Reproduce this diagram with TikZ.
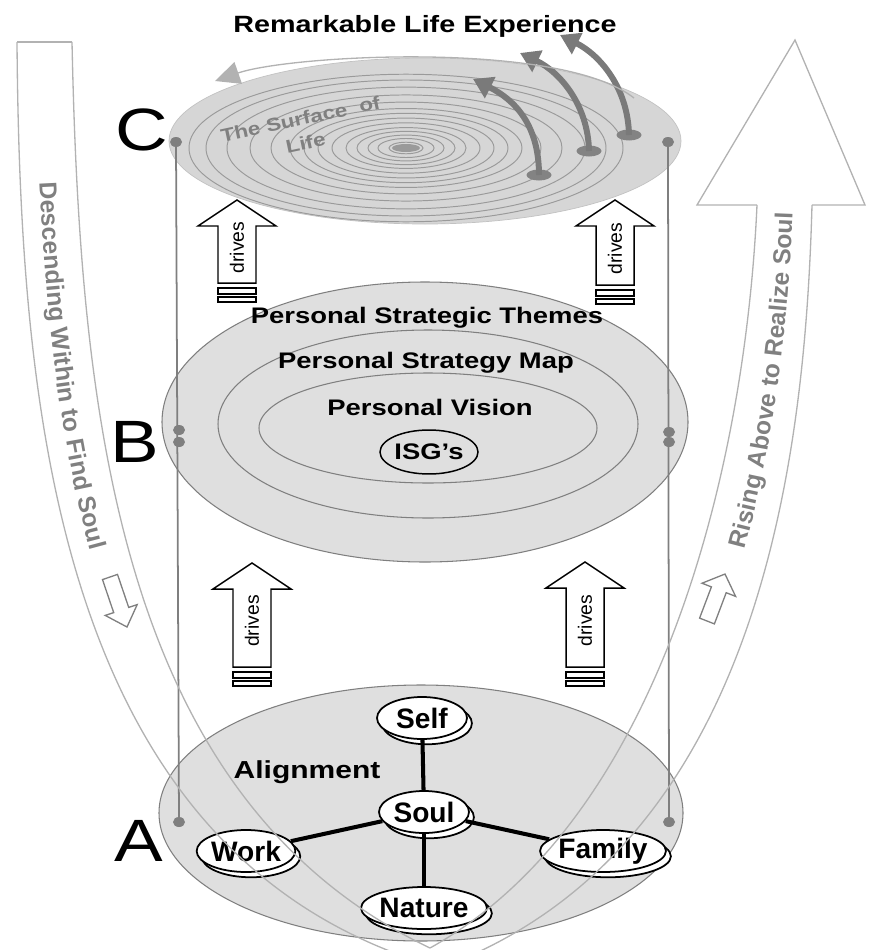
\documentclass[tikz,border=0pt]{standalone}
\usepackage{fontspec}
\setmainfont{Liberation Sans}
\newfontfamily\widefont{Liberation Sans}[FakeStretch=1.22]
\usetikzlibrary{shapes.geometric,shadows,arrows.meta,decorations.text}

\definecolor{discgray}{HTML}{DFDFDF}
\definecolor{topgray}{HTML}{D6D6D6}
\definecolor{rimgray}{HTML}{7F7F7F}
\definecolor{ringgray}{HTML}{9A9A9A}
\definecolor{bandgray}{HTML}{B2B2B2}
\definecolor{textgray}{HTML}{808080}
\definecolor{liftgray}{HTML}{7A7A7A}

\tikzset{
  disc/.style={fill=discgray, draw=rimgray, line width=0.6pt},
  ring/.style={draw=ringgray, line width=0.55pt},
  post/.style={draw=rimgray, line width=1pt},
  knob/.style={ellipse, fill=rimgray, minimum width=0.24cm, minimum height=0.2cm, inner sep=0pt},
  band/.style={draw=bandgray, line width=0.75pt},
  level/.style={font=\widefont\fontsize{34}{34}\selectfont, inner sep=0pt},
  layer/.style={font=\widefont\fontsize{12.8}{14}\selectfont\bfseries, inner sep=0pt, anchor=base},
  pillar/.style={ellipse, draw, line width=1pt, fill=white, minimum width=1.8cm, minimum height=0.84cm, inner sep=0pt,
    font=\fontsize{16}{16}\selectfont\bfseries,
    general shadow={draw=black, fill=white, line width=1pt, shadow xshift=2.8pt, shadow yshift=-3pt}},
  spoke/.style={line width=2.3pt},
  drivebox/.style={draw, line width=0.85pt, fill=white},
  drivetxt/.style={font=\fontsize{11}{11}\selectfont, rotate=90, inner sep=0pt},
  lift/.style={draw=liftgray, line width=3.4pt, -{Triangle[length=11pt, width=13pt]}},
  foot/.style={ellipse, fill=ringgray!85!black, minimum width=0.5cm, minimum height=0.22cm, inner sep=0pt},
}

\newcommand{\drivesarrow}[4]{%
  \draw[drivebox] (#2,#3) -- ({#2+39},{#3+26}) -- ({#2+19},{#3+26}) -- ({#2+19},#4) -- ({#2-19},#4) -- ({#2-19},{#3+26}) -- ({#2-39},{#3+26}) -- cycle;
  \node[drivetxt] (#1) at (#2,{(#3+#4)/2+6}) {drives};
  \draw[drivebox] ({#2-19},{#4+5}) rectangle ({#2+19},{#4+11});
  \draw[drivebox] ({#2-19},{#4+14}) rectangle ({#2+19},{#4+19});
}

\begin{document}
\begin{tikzpicture}[x=0.02cm, y=-0.02cm]
\useasboundingbox (0,0) rectangle (872,950);

% C: the surface of life
\draw[fill=topgray, draw=ringgray!60] (425,141) ellipse [x radius=256, y radius=83];
\foreach \r [evaluate=\r as \ry using 0.34*\r] in {17,28,38,49,60,74,88,102,116,135,156,179,200,217}
  \draw[ring] (406,148) ellipse [x radius=\r, y radius=\ry];
\fill[ringgray] (406,148) ellipse [x radius=14, y radius=4];
\node[font=\widefont\fontsize{10.5}{14}\selectfont\bfseries, text=textgray, rotate=12, align=center, inner sep=0pt] (surface) at (303,131) {The Surface~~of\\Life};
\node[foot] (f1) at (539,175) {};
\node[foot] (f2) at (589,151) {};
\node[foot] (f3) at (629,135) {};
\coordinate (t1) at (473,79);
\coordinate (t2) at (520,53);
\coordinate (t3) at (560,35);
\draw[lift] (f1.center) .. controls (539,125) and (515,100) .. (t1);
\draw[lift] (f2.center) .. controls (588,105) and (560,72) .. (t2);
\draw[lift] (f3.center) .. controls (628,88) and (600,55) .. (t3);
\coordinate (orbitA) at (634,98);
\coordinate (orbitB) at (215,81);
\draw[band, -{Triangle[length=14pt, width=13pt]}] (orbitA) .. controls (560,40) and (290,55) .. (orbitB);

% B: personal strategy
\draw[disc] (425,422) ellipse [x radius=263, y radius=140];
\draw[draw=rimgray, line width=0.6pt] (428,424) ellipse [x radius=210, y radius=94];
\draw[draw=rimgray, line width=0.6pt] (428,428) ellipse [x radius=169, y radius=55];
\node[layer] (themes) at (427,323) {Personal Strategic Themes};
\node[layer] (map) at (426,368) {Personal Strategy Map};
\node[layer] (vision) at (430,415) {Personal Vision};
\node[ellipse, draw, line width=0.85pt, minimum width=1.96cm, minimum height=0.88cm, inner sep=0pt, font=\widefont\fontsize{12.8}{14}\selectfont\bfseries] (isg) at (429,452) {ISG’s};

% A: alignment
\draw[disc] (421,813) ellipse [x radius=262, y radius=128];
\node[layer, font=\widefont\fontsize{14}{16}\selectfont\bfseries] (alignment) at (307,778) {Alignment};
\node[pillar] (self) at (422,718) {Self};
\node[pillar] (soul) at (424,812) {Soul};
\node[pillar] (work) at (246,851) {Work};
\node[pillar] (family) at (603,851) {Family};
\node[pillar] (nature) at (424,908) {Nature};
\draw[spoke] (soul) -- (self);
\draw[spoke] (soul) -- (work);
\draw[spoke] (soul) -- (family);
\draw[spoke] (soul) -- (nature);

\drivesarrow{dUL}{237}{200}{283}
\drivesarrow{dUR}{615}{200}{285}
\drivesarrow{dLL}{252}{563}{667}
\drivesarrow{dLR}{585}{562}{667}

% posts
\node[knob] (cL) at (176,142) {};
\node[knob] (bL1) at (179,430) {};
\node[knob] (bL2) at (179,442) {};
\node[knob] (aL) at (179,822) {};
\node[knob] (cR) at (668,142) {};
\node[knob] (bR1) at (669,432) {};
\node[knob] (bR2) at (669,442) {};
\node[knob] (aR) at (669,822) {};
\draw[post] (cL.center) -- (aL.center);
\draw[post] (cR.center) -- (aR.center);

% descending and rising band
\coordinate (lo) at (17,42);
\coordinate (li) at (72,42);
\coordinate (ro) at (812,205);
\coordinate (ri) at (757,205);
\coordinate (bo) at (440,968);
\coordinate (bi) at (430,948);
\draw[band] (lo) -- (li);
\draw[band] (lo) .. controls (20,420) and (60,860) .. (bo);
\draw[band] (li) .. controls (80,420) and (120,800) .. (bi);
\draw[band] (ro) .. controls (805,460) and (760,850) .. (bo);
\draw[band] (ri) .. controls (745,470) and (660,820) .. (bi);
\draw[band] (ri) -- (697,205) -- (795,40) -- (865,205) -- (ro);
\path[decorate, decoration={text along path, text={|\fontsize{14}{14}\selectfont\bfseries|Descending Within to Find Soul}, text color=textgray, text align={left indent=2.8cm}, raise=-5pt}] (44,42) .. controls (50,420) and (90,830) .. (435,958);
\path[decorate, decoration={text along path, text={|\fontsize{14}{14}\selectfont\bfseries|Rising Above to Realize Soul}, text color=textgray, text align={right, right indent=0.15cm}, raise=-5pt}] (436,958) .. controls (710,835) and (775,465) .. (784,205);
\draw[band, draw=textgray, fill=white] (117.5,574.4) -- (128.7,607.4) -- (137.2,604.6) -- (127,627) -- (105.2,615.4) -- (113.7,612.6) -- (102.5,579.6) -- cycle;
\draw[band, draw=textgray, fill=white] (714.4,623.9) -- (726.2,592.7) -- (735.6,596.4) -- (725,574) -- (702,583.2) -- (711.4,586.9) -- (699.6,618.1) -- cycle;

% levels and title
\node[level] (C) at (142,130) {C};
\node[level] (B) at (135,442) {B};
\node[level] (A) at (139,841) {A};
\node[layer, font=\widefont\fontsize{13.4}{15}\selectfont\bfseries] (title) at (425,32) {Remarkable Life Experience};
\end{tikzpicture}
\end{document}
